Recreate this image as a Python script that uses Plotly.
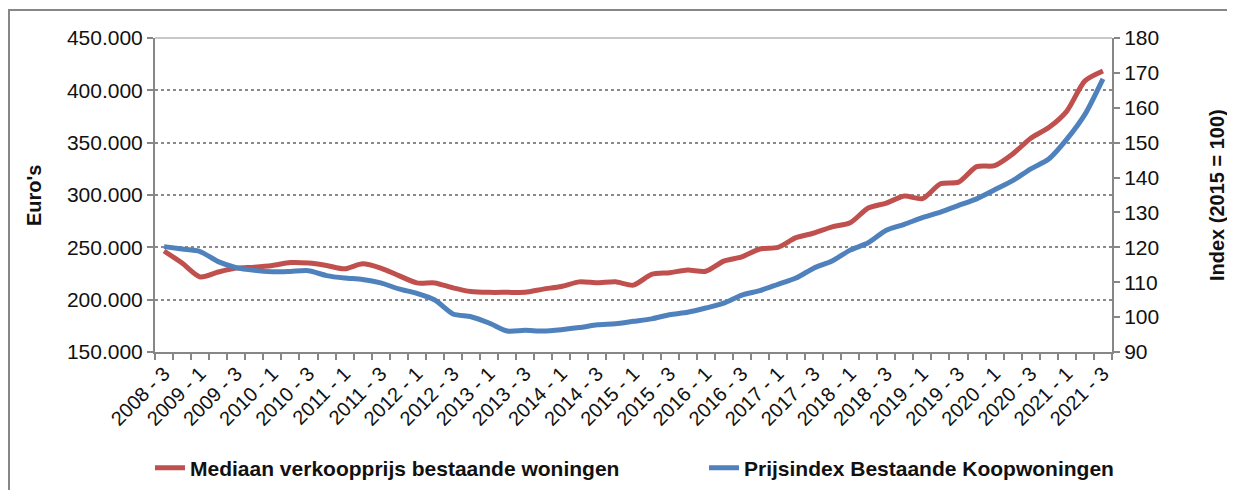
import plotly.graph_objects as go

quarters = [
    "2008 - 3", "2008 - 4",
    "2009 - 1", "2009 - 2", "2009 - 3", "2009 - 4",
    "2010 - 1", "2010 - 2", "2010 - 3", "2010 - 4",
    "2011 - 1", "2011 - 2", "2011 - 3", "2011 - 4",
    "2012 - 1", "2012 - 2", "2012 - 3", "2012 - 4",
    "2013 - 1", "2013 - 2", "2013 - 3", "2013 - 4",
    "2014 - 1", "2014 - 2", "2014 - 3", "2014 - 4",
    "2015 - 1", "2015 - 2", "2015 - 3", "2015 - 4",
    "2016 - 1", "2016 - 2", "2016 - 3", "2016 - 4",
    "2017 - 1", "2017 - 2", "2017 - 3", "2017 - 4",
    "2018 - 1", "2018 - 2", "2018 - 3", "2018 - 4",
    "2019 - 1", "2019 - 2", "2019 - 3", "2019 - 4",
    "2020 - 1", "2020 - 2", "2020 - 3", "2020 - 4",
    "2021 - 1", "2021 - 2", "2021 - 3",
]

mediaan_prijs = [
    246500, 235000, 221700, 226400, 230200, 231100, 232700, 235500, 235000, 232700,
    229500, 234300, 230200, 223000, 216000, 216000, 211300, 207800, 207000, 207000,
    207000, 210100, 212600, 217000, 216100, 217000, 213900, 224200, 225800, 228300,
    227100, 236800, 240900, 248400, 250000, 259200, 263700, 269600, 273400, 287600,
    292300, 299000, 296500, 310700, 312300, 327100, 328000, 339100, 354300, 364400,
    380200, 409000, 418500,
]

prijsindex = [
    120.2, 119.5, 118.8, 115.9, 114.2, 113.4, 113.0, 113.1, 113.3, 111.9,
    111.2, 110.8, 109.8, 108.1, 106.8, 104.9, 100.9, 100.1, 98.3, 96.0,
    96.2, 96.0, 96.4, 97.0, 97.8, 98.1, 98.8, 99.5, 100.7, 101.4,
    102.6, 104.0, 106.3, 107.6, 109.4, 111.2, 114.1, 116.1, 119.2, 121.3,
    124.9, 126.6, 128.5, 130.1, 132.0, 133.9, 136.5, 139.1, 142.5, 145.3,
    151.0, 158.1, 168.3,
]

left_tickvals = [150000, 200000, 250000, 300000, 350000, 400000, 450000]
left_ticktext = ["150.000", "200.000", "250.000", "300.000", "350.000", "400.000", "450.000"]
right_tickvals = [90, 100, 110, 120, 130, 140, 150, 160, 170, 180]

name_red = "Mediaan verkoopprijs bestaande woningen"
name_blue = "Prijsindex Bestaande Koopwoningen"
title_left = "Euro's"
title_right = "Index (2015 = 100)"

x_pos = list(range(len(quarters)))
label_pos = x_pos[::2]
label_text = quarters[::2]
boundaries = [p - 0.5 for p in x_pos] + [x_pos[-1] + 0.5]

FONT = "Liberation Sans, Arial, sans-serif"
GRAY = "#878787"
RED = "#C0504D"
BLUE = "#4F81BD"
TXT = "#111111"

# The page body keeps an 8px default margin, so the figure is drawn 8px
# right and down from the window corner; size and position compensate.
OFF = 8
W, H = 1235 - OFF, 490 - OFF
# plot area in window pixels: x 155..1112, y 38..352
L = 155 - OFF
T = 38 - OFF
R = W - (1112 - OFF)
B = H - (352 - OFF)
pw, ph = W - L - R, H - T - B


def px_x(px):
    return (px - OFF - L) / pw


def px_y(py):
    return (H - B - (py - OFF)) / ph


fig = go.Figure()
fig.add_trace(go.Scatter(
    x=x_pos, y=mediaan_prijs, name=name_red, mode="lines",
    line=dict(color=RED, width=5, shape="spline", smoothing=0.7),
    yaxis="y", legend="legend", showlegend=True, hoverinfo="skip",
))
fig.add_trace(go.Scatter(
    x=x_pos, y=prijsindex, name=name_blue, mode="lines",
    line=dict(color=BLUE, width=5, shape="spline", smoothing=0.7),
    yaxis="y2", legend="legend2", showlegend=True, hoverinfo="skip",
))

fig.update_layout(
    width=W, height=H,
    margin=dict(l=L, r=R, t=T, b=B, autoexpand=False),
    paper_bgcolor="white", plot_bgcolor="white",
    showlegend=True,
    font=dict(family=FONT, size=20, color=TXT),
    xaxis=dict(
        range=[-0.5, len(quarters) - 0.5],
        tickmode="array", tickvals=label_pos, ticktext=label_text,
        tickangle=-45, ticks="", showgrid=False, zeroline=False,
        showline=True, linecolor=GRAY, linewidth=2,
        tickfont=dict(size=20, family=FONT, color=TXT),
        minor=dict(tickmode="array", tickvals=boundaries, ticks="outside",
                   ticklen=6, tickcolor=GRAY, tickwidth=2, showgrid=False),
    ),
    yaxis=dict(
        range=[150000, 450000], tickmode="array",
        tickvals=left_tickvals, ticktext=left_ticktext,
        ticks="outside", ticklen=6, tickcolor=GRAY, tickwidth=2,
        showline=True, linecolor=GRAY, linewidth=2,
        showgrid=True, gridcolor="#8a8a8a", griddash="dot", gridwidth=2,
        zeroline=False, tickfont=dict(size=21, family=FONT, color=TXT),
    ),
    yaxis2=dict(
        range=[90, 180], tickmode="array", tickvals=right_tickvals,
        overlaying="y", side="right",
        ticks="outside", ticklen=6, tickcolor=GRAY, tickwidth=2,
        showline=True, linecolor=GRAY, linewidth=2,
        showgrid=False, zeroline=False,
        tickfont=dict(size=21, family=FONT, color=TXT),
    ),
    legend=dict(
        x=px_x(150), y=px_y(468), xanchor="left", yanchor="middle",
        orientation="h", bgcolor="rgba(0,0,0,0)",
        font=dict(size=21, family=FONT, color=TXT, weight="bold"),
    ),
    legend2=dict(
        x=px_x(704), y=px_y(468), xanchor="left", yanchor="middle",
        orientation="h", bgcolor="rgba(0,0,0,0)",
        font=dict(size=21, family=FONT, color=TXT, weight="bold"),
    ),
    shapes=[
        dict(type="rect", xref="paper", yref="paper",
             x0=px_x(9), x1=px_x(1250), y0=px_y(500), y1=px_y(10),
             line=dict(color=GRAY, width=2), fillcolor="rgba(0,0,0,0)", layer="below"),
        dict(type="line", xref="paper", yref="paper",
             x0=0, x1=1, y0=1, y1=1, line=dict(color="#c8c8c8", width=2), layer="above"),
    ],
    annotations=[
        dict(text=title_left, xref="paper", yref="paper", x=px_x(34), y=0.5,
             xanchor="center", yanchor="middle", textangle=-90, showarrow=False,
             font=dict(size=20, family=FONT, color=TXT, weight="bold")),
        dict(text=title_right, xref="paper", yref="paper", x=px_x(1217), y=0.5,
             xanchor="center", yanchor="middle", textangle=-90, showarrow=False,
             font=dict(size=20, family=FONT, color=TXT, weight="bold")),
    ],
)

fig.write_html("out.html")
